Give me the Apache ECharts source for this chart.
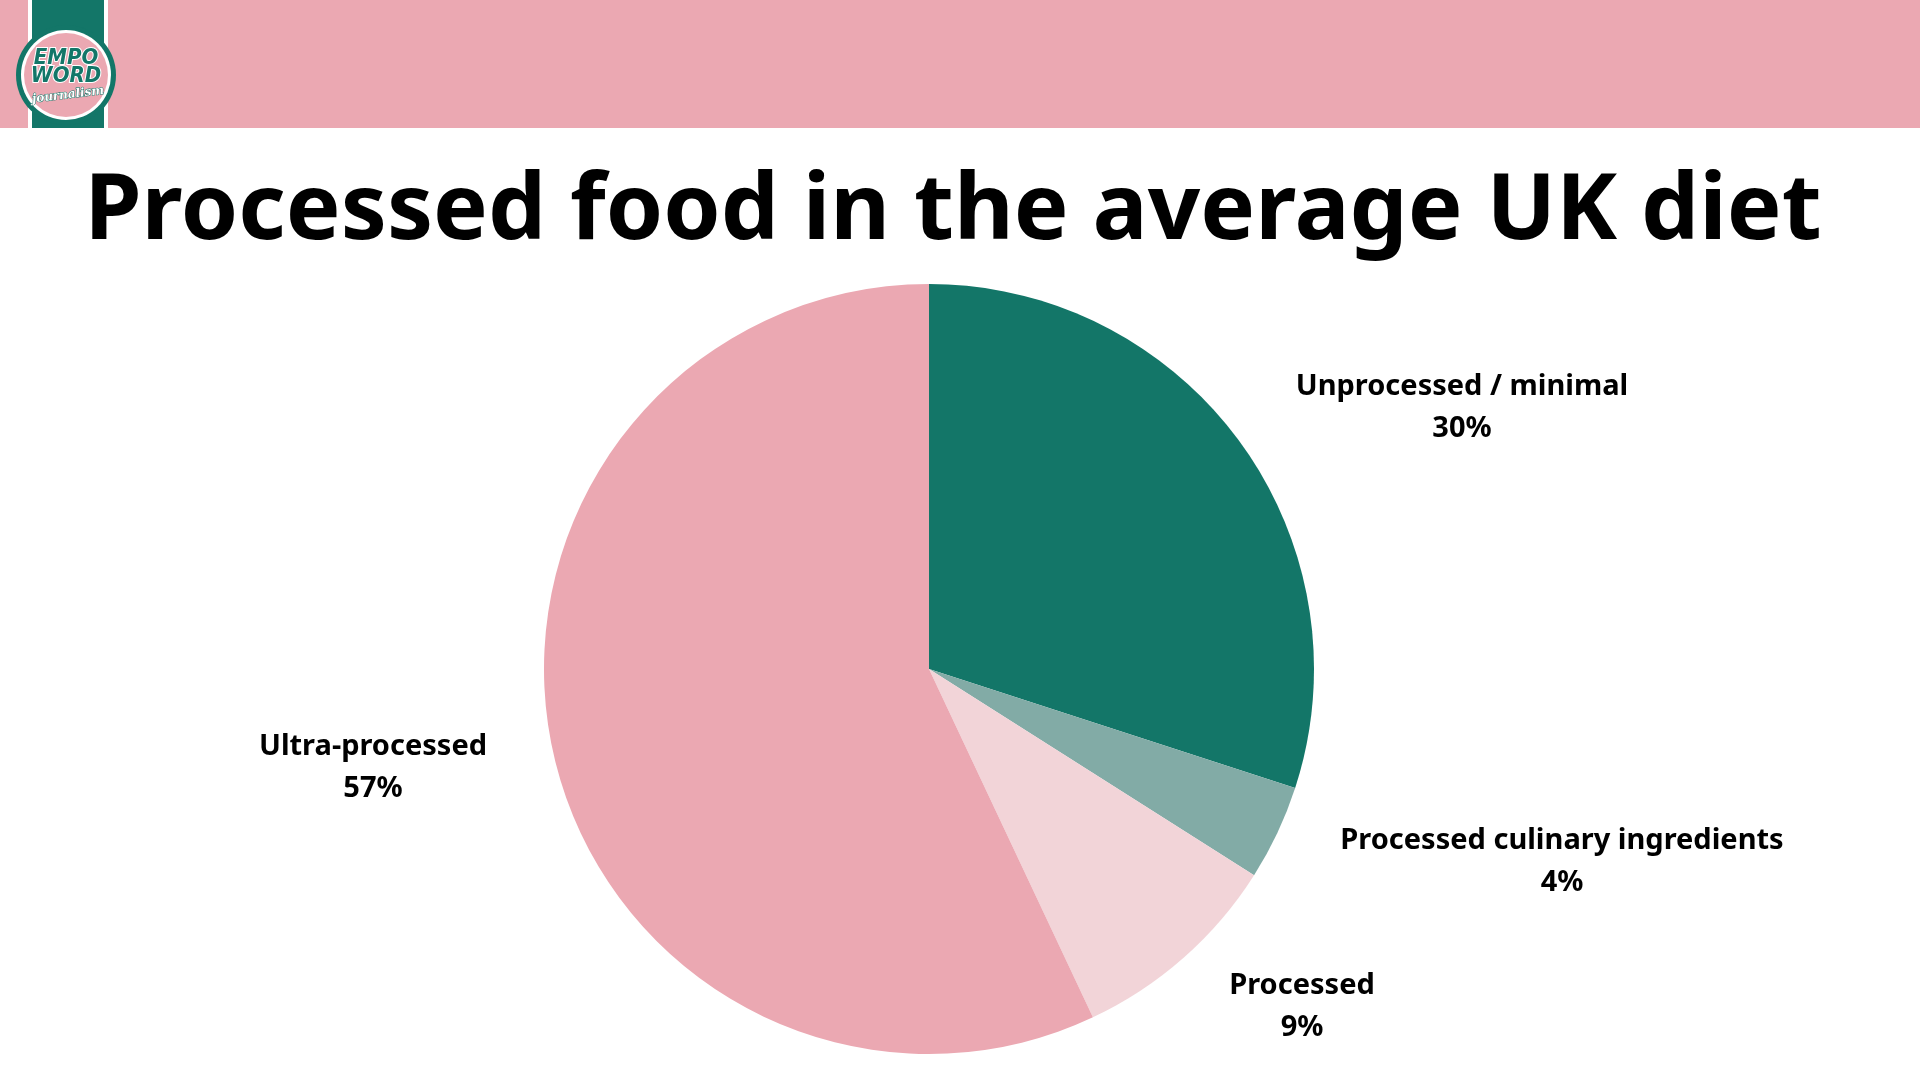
<!DOCTYPE html>
<html>
<head>
<meta charset="utf-8">
<script src="https://cdn.jsdelivr.net/npm/echarts@6/dist/echarts.min.js"></script>
<style>
html,body{margin:0;padding:0;background:#ffffff;}
#chart{width:1920px;height:1080px;}
</style>
</head>
<body>
<div id="chart"></div>
<script>
const TITLE = 'Processed food in the average UK diet';
const CATEGORIES = ['Unprocessed / minimal', 'Processed culinary ingredients', 'Processed', 'Ultra-processed'];
const VALUES = [30, 4, 9, 57];
const PERCENT_LABELS = ['30%', '4%', '9%', '57%'];
const COLORS = ['#137668', '#82aba6', '#f2d4d8', '#eba8b2'];

const PINK = '#eba8b2';
const TEAL = '#137668';
const labelSpots = [[1462, 408], [1562, 862], [1302, 1007], [373, 768]];

const chart = echarts.init(document.getElementById('chart'));
chart.setOption({
  backgroundColor: '#ffffff',
  animation: false,
  graphic: [
    { type: 'rect', shape: { x: 0, y: 0, width: 1920, height: 128 }, style: { fill: PINK }, z: 1 },
    { type: 'rect', shape: { x: 28, y: 0, width: 80, height: 128 }, style: { fill: '#ffffff' }, z: 2 },
    { type: 'rect', shape: { x: 32, y: 0, width: 72, height: 128 }, style: { fill: TEAL }, z: 3 },
    { type: 'circle', shape: { cx: 66, cy: 75, r: 50 }, style: { fill: TEAL }, z: 4 },
    { type: 'circle', shape: { cx: 66, cy: 75, r: 45 }, style: { fill: '#ffffff' }, z: 5 },
    { type: 'circle', shape: { cx: 66, cy: 75, r: 42 }, style: { fill: PINK }, z: 6 },
    { type: 'text', x: 66, y: 58, z: 7, style: { text: 'EMPO', fill: TEAL, stroke: '#ffffff', lineWidth: 2, font: 'italic 900 22px "DejaVu Sans Condensed"', textAlign: 'center', textVerticalAlign: 'middle' } },
    { type: 'text', x: 66, y: 76, z: 7, style: { text: 'WORD', fill: TEAL, stroke: '#ffffff', lineWidth: 2, font: 'italic 900 22px "DejaVu Sans Condensed"', textAlign: 'center', textVerticalAlign: 'middle' } },
    { type: 'text', x: 68, y: 95, z: 7, rotation: 0.12, style: { text: 'journalism', fill: '#ffffff', stroke: TEAL, lineWidth: 1, font: 'italic bold 12px "DejaVu Serif"', textAlign: 'center', textVerticalAlign: 'middle' } },
    { type: 'text', x: 953, y: 213, z: 7, style: { text: TITLE, fill: '#000000', font: 'bold 92px "Noto Sans"', textAlign: 'center', textVerticalAlign: 'middle' } }
  ],
  series: [{
    type: 'pie',
    center: [929, 669],
    radius: [0, 385],
    startAngle: 90,
    clockwise: true,
    silent: true,
    itemStyle: { borderWidth: 0 },
    label: {
      show: true,
      position: 'outside',
      formatter: (p) => p.name + '\n' + PERCENT_LABELS[p.dataIndex],
      color: '#000000',
      fontFamily: 'Noto Sans',
      fontWeight: 'bold',
      fontSize: 29,
      lineHeight: 42,
      align: 'center'
    },
    labelLine: { show: false },
    labelLayout: (params) => ({
      x: labelSpots[params.dataIndex][0],
      y: labelSpots[params.dataIndex][1],
      align: 'center',
      verticalAlign: 'middle'
    }),
    data: CATEGORIES.map((name, i) => ({ name: name, value: VALUES[i], itemStyle: { color: COLORS[i] } }))
  }]
});
</script>
</body>
</html>
